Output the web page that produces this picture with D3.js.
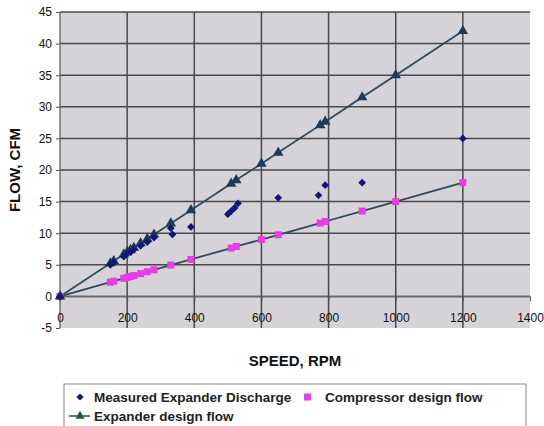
<!DOCTYPE html>
<html><head><meta charset="utf-8">
<script src="https://cdn.jsdelivr.net/npm/d3@7"></script>
<style>
html,body{margin:0;padding:0;background:#fff;}
svg{display:block;font-family:"Liberation Sans",Arial,sans-serif;}
</style></head>
<body>
<svg id="chart" width="544" height="426"></svg>
<script>
// ---- data ----
const xTicks = [0, 200, 400, 600, 800, 1000, 1200, 1400];
const yTicks = [-5, 0, 5, 10, 15, 20, 25, 30, 35, 40, 45];

const measuredSpeed = [0, 150, 160, 190, 200, 210, 220, 240, 260, 280, 330, 335, 390, 500, 510, 520, 530, 650, 770, 790, 900, 1200];
const measuredFlow  = [0, 5.0, 5.4, 6.3, 6.8, 7.0, 7.4, 8.0, 8.6, 9.3, 10.8, 9.8, 11.0, 13.0, 13.5, 14.0, 14.7, 15.6, 16.0, 17.6, 18.0, 25.0];

const designSpeed    = [0, 150, 160, 190, 200, 210, 220, 240, 260, 280, 330, 390, 510, 525, 600, 650, 775, 790, 900, 1000, 1200];
const expanderFlow   = [0, 5.25, 5.6, 6.65, 7.0, 7.35, 7.7, 8.4, 9.1, 9.8, 11.55, 13.65, 17.85, 18.4, 21.0, 22.75, 27.1, 27.65, 31.5, 35.0, 42.0];
const compressorFlow = [0, 2.25, 2.4, 2.85, 3.0, 3.15, 3.3, 3.6, 3.9, 4.2, 4.95, 5.85, 7.65, 7.9, 9.0, 9.75, 11.6, 11.85, 13.5, 15.0, 18.0];

const seriesNames = ["Measured Expander Discharge", "Compressor design flow", "Expander design flow"];

// ---- layout ----
const svg = d3.select("#chart");
const m = {left: 60, top: 12, right: 14, bottom: 98};
const W = 544 - m.left - m.right, H = 426 - m.top - m.bottom;
const x = d3.scaleLinear().domain([0, 1400]).range([0, W]);
const y = d3.scaleLinear().domain([-5, 45]).range([H, 0]);
const g = svg.append("g").attr("transform", `translate(${m.left},${m.top})`);

const gridCol = "#4a4a4a", lineCol = "#2f4b5c";
const fmt = d => String(d);

g.append("rect").attr("width", W).attr("height", H).attr("fill", "#d5d2d8");

// horizontal gridlines
g.append("g").selectAll("line").data(yTicks.filter(v => v > -5)).join("line")
  .attr("x1", 0).attr("x2", W).attr("y1", d => y(d)).attr("y2", d => y(d))
  .attr("stroke", d => d === 0 ? "#6a6a6a" : gridCol).attr("stroke-width", d => d === 0 ? 2 : 1.5);
// vertical gridlines
g.append("g").selectAll("line").data(xTicks.filter(v => v > 0 && v < 1400)).join("line")
  .attr("y1", 0).attr("y2", H).attr("x1", d => x(d)).attr("x2", d => x(d))
  .attr("stroke", gridCol).attr("stroke-width", 1.5);
// left axis
g.append("line").attr("x1", 0).attr("x2", 0).attr("y1", 0).attr("y2", H)
  .attr("stroke", "#555").attr("stroke-width", 1.2);

// y axis
const yAxis = g.append("g").call(d3.axisLeft(y).tickValues(yTicks).tickFormat(fmt).tickSize(4).tickPadding(4));
yAxis.select(".domain").remove();
yAxis.selectAll("line").attr("stroke", "#555");
yAxis.selectAll("text").attr("font-size", 12).attr("fill", "#111").attr("font-family", "Liberation Sans, Arial");

// x axis at y=0
const xAxis = g.append("g").attr("transform", `translate(0,${y(0)})`)
  .call(d3.axisBottom(x).tickValues(xTicks).tickFormat(fmt).tickSize(5).tickPadding(12));
xAxis.select(".domain").remove();
xAxis.selectAll("line").attr("stroke", "#555");
xAxis.selectAll("text").attr("font-size", 12).attr("fill", "#111").attr("font-family", "Liberation Sans, Arial");

// lines
const lineGen = d3.line().x(d => x(d[0])).y(d => y(d[1]));
g.append("path").datum(d3.zip(designSpeed, compressorFlow)).attr("d", lineGen)
  .attr("fill", "none").attr("stroke", lineCol).attr("stroke-width", 1.8);
g.append("path").datum(d3.zip(designSpeed, expanderFlow)).attr("d", lineGen)
  .attr("fill", "none").attr("stroke", lineCol).attr("stroke-width", 1.8);

// compressor squares
g.append("g").selectAll("rect").data(d3.zip(designSpeed, compressorFlow)).join("rect")
  .attr("x", d => x(d[0]) - 3.5).attr("y", d => y(d[1]) - 3.5)
  .attr("width", 7).attr("height", 7).attr("fill", "#e83ce8");
// expander triangles
const tri = d3.symbol().type(d3.symbolTriangle).size(48);
g.append("g").selectAll("path").data(d3.zip(designSpeed, expanderFlow)).join("path")
  .attr("d", tri).attr("transform", d => `translate(${x(d[0])},${y(d[1])})`)
  .attr("fill", "#1d3a58");
// measured diamonds
const dia = d3.symbol().type(d3.symbolSquare).size(30);
g.append("g").selectAll("path").data(d3.zip(measuredSpeed, measuredFlow)).join("path")
  .attr("d", dia).attr("transform", d => `translate(${x(d[0])},${y(d[1])}) rotate(45)`)
  .attr("fill", "#10167a");

// axis titles
svg.append("text").attr("transform", `translate(20,${m.top + H / 2}) rotate(-90)`)
  .attr("text-anchor", "middle").attr("font-size", 15).attr("font-weight", "bold").attr("fill", "#111")
  .text("FLOW, CFM");
svg.append("text").attr("x", m.left + W / 2).attr("y", 366)
  .attr("text-anchor", "middle").attr("font-size", 15).attr("font-weight", "bold").attr("fill", "#111")
  .text("SPEED, RPM");

// legend
const lg = svg.append("g");
lg.append("rect").attr("x", 64).attr("y", 384).attr("width", 462).attr("height", 46)
  .attr("fill", "#fff").attr("stroke", "#888").attr("stroke-width", 1);
lg.append("path").attr("d", d3.symbol().type(d3.symbolSquare).size(26))
  .attr("transform", "translate(80,397) rotate(45)").attr("fill", "#10167a");
lg.append("text").attr("x", 94).attr("y", 402).attr("font-size", 13.5).attr("font-weight", "bold").attr("fill", "#222")
  .text(seriesNames[0]);
lg.append("rect").attr("x", 304).attr("y", 393.5).attr("width", 7).attr("height", 7).attr("fill", "#e83ce8");
lg.append("text").attr("x", 325).attr("y", 402).attr("font-size", 13.5).attr("font-weight", "bold").attr("fill", "#222")
  .text(seriesNames[1]);
lg.append("line").attr("x1", 69).attr("x2", 90).attr("y1", 416).attr("y2", 416).attr("stroke", lineCol).attr("stroke-width", 1.5);
lg.append("path").attr("d", d3.symbol().type(d3.symbolTriangle).size(36))
  .attr("transform", "translate(80,416)").attr("fill", "#1f5a3a");
lg.append("text").attr("x", 94).attr("y", 421).attr("font-size", 13.5).attr("font-weight", "bold").attr("fill", "#222")
  .text(seriesNames[2]);
</script>
</body></html>
